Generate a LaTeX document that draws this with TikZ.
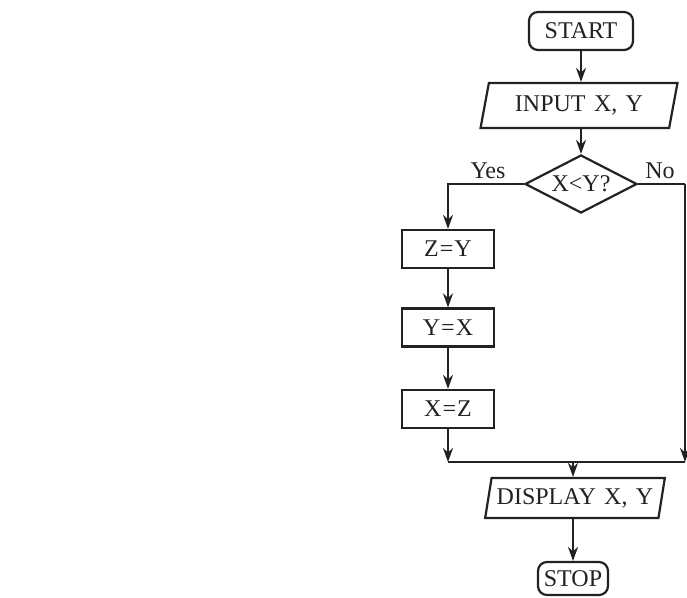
\documentclass[tikz,border=0pt]{standalone}
\usepackage{fontspec}
\setmainfont{Liberation Serif}
\usetikzlibrary{shapes.geometric,arrows.meta}

\definecolor{ink}{HTML}{222222}

\tikzset{
  every node/.style={font=\fontsize{24}{26}\selectfont, text=ink},
  flow/.style={draw=ink, line width=2.2pt},
  arr/.style={flow, -{Stealth[length=14pt,width=10pt]}},
  term/.style={flow, rounded corners=9pt, inner sep=0pt},
  proc/.style={flow, inner sep=0pt, minimum width=92pt, minimum height=38pt},
  io/.style={flow, trapezium, trapezium left angle=73, trapezium right angle=107,
             trapezium stretches=true, inner sep=0pt},
  decide/.style={flow, diamond, inner sep=0pt, minimum width=112pt,
                 minimum height=58pt, shape aspect=1.93},
}

\begin{document}
\begin{tikzpicture}[x=1pt, y=-1pt]
  \useasboundingbox (0,0) rectangle (687,597);
  \fill[white] (0,0) rectangle (687,597);

  % terminals, input/output and decision
  \node[term, minimum width=104pt, minimum height=38pt] (start) at (581,31) {START};
  \node[io, minimum width=197pt, minimum height=45pt] (input) at (579,105.5) {INPUT\hspace{0.35em}X,\hspace{0.35em}Y};
  \node[decide] (dec) at (581,184) {X<Y?};

  % swap steps
  \node[proc] (zy) at (448,249) {Z\kern1pt=\kern1pt Y};
  \node[proc] (yx) at (448,327.5) {Y\kern1pt=\kern1pt X};
  \node[proc] (xz) at (448,409) {X\kern1pt=\kern1pt Z};

  \node[io, minimum width=180pt, minimum height=40pt] (disp) at (575,498) {DISPLAY\hspace{0.35em}X,\hspace{0.35em}Y};
  \node[term, minimum width=70pt, minimum height=33pt] (stop) at (573,578.5) {STOP};

  % branch labels
  \node (yes) at (488,171) {Yes};
  \node (no) at (660,171) {No};

  % junction points
  \coordinate (jl) at (448,462);
  \coordinate (jr) at (685,462);
  \coordinate (jm) at (573,462);
  \coordinate (rc) at (685,184);

  % connectors
  \draw[arr] (start.south) -- (start.south |- input.north);
  \draw[arr] (input.south -| dec) -- (dec.north);
  \draw[arr] (dec.west) -| (zy.north);
  \draw[arr] (zy) -- (yx);
  \draw[arr] (yx) -- (xz);
  \draw[arr] (xz.south) -- (jl);
  \draw[flow] (dec.east) -- (rc);
  \draw[arr] (rc) -- (jr);
  \draw[flow] (jl) -- (jr);
  \draw[arr] (jm) -- (jm |- disp.north);
  \draw[arr] (disp.south -| stop) -- (stop.north);
\end{tikzpicture}
\end{document}
